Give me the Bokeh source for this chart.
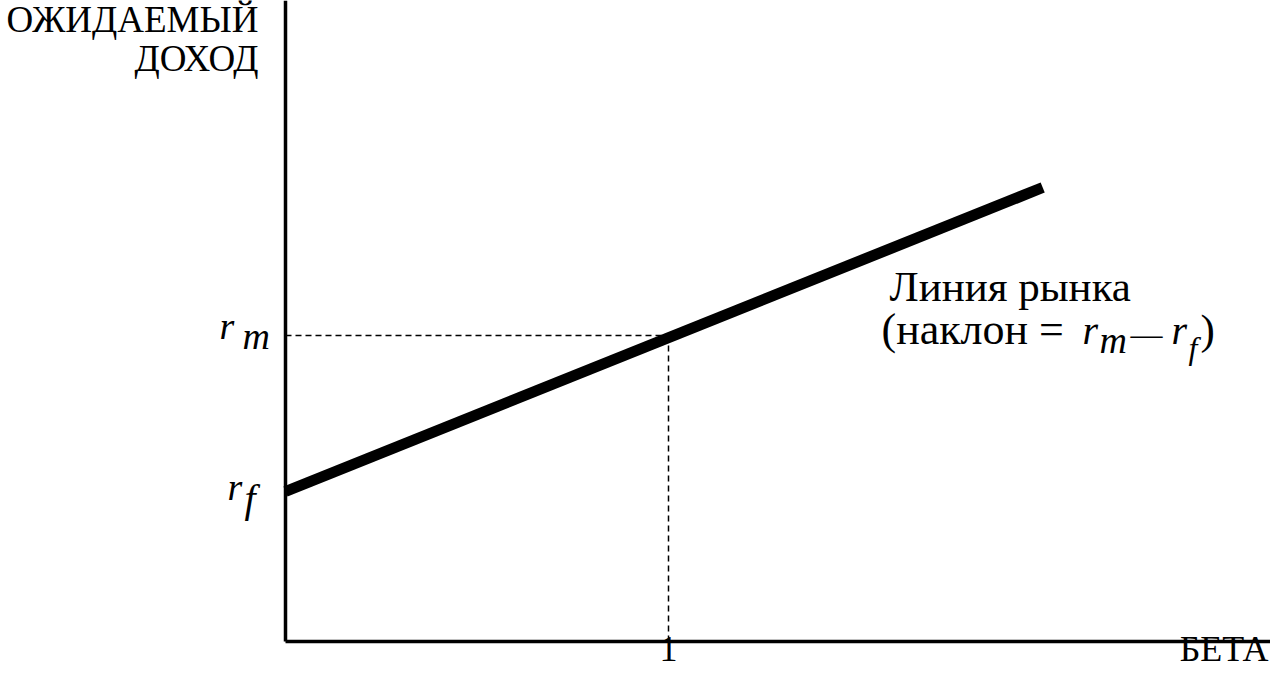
from bokeh.plotting import figure
from bokeh.models import Range1d, Label
from bokeh.embed import file_html
from bokeh.resources import INLINE

# ---- data ----
sml_beta = [0.0, 1.977]         # security market line: beta
sml_return = [6.0, 18.16]       # expected return along the line
r_f = 6.0                       # risk-free rate
r_m = 12.24                     # market return
beta_market = 1.0               # market beta
x_tick_labels = ["1"]
y_title_lines = ["ОЖИДАЕМЫЙ", "ДОХОД"]
x_title = "БЕТА"
legend_lines = ["Линия рынка", "(наклон ="]

W, H = 1270, 670
x0_px, x_unit = 285, 383.0
y0_from_bottom, y_unit = 29, 25.0
x_start = -x0_px / x_unit
x_end = (W - x0_px) / x_unit
y_start = -y0_from_bottom / y_unit
y_end = (H - y0_from_bottom) / y_unit

p = figure(width=W, height=H, output_backend="svg", toolbar_location=None,
           x_range=Range1d(x_start, x_end), y_range=Range1d(y_start, y_end),
           x_axis_type=None, y_axis_type=None, min_border=0,
           outline_line_color=None, background_fill_color="white",
           border_fill_color="white")
p.grid.visible = False

# axes lines
p.segment(x0=[0, 0], y0=[0, 0], x1=[x_end, 0], y1=[0, y_end],
          line_color="black", line_width=3.5)

# dashed guides
p.segment(x0=[0, beta_market], y0=[r_m, 0], x1=[beta_market, beta_market], y1=[r_m, r_m],
          line_color="black", line_width=1.5, line_dash="6 4")

# security market line
p.line(sml_beta, sml_return, line_color="black", line_width=11, line_cap="butt")

FONT = "Liberation Serif"

def lab(x, y, text, xo, yo, size=34, align="left", style="normal"):
    p.add_layout(Label(x=x, y=y, text=text, x_offset=xo, y_offset=yo,
                       text_font=FONT, text_font_size=f"{size}px",
                       text_font_style=style, text_align=align,
                       text_baseline="alphabetic", text_color="black"))

# y title
lab(0, y_end, y_title_lines[0], -27, -19, size=37, align="right")
lab(0, y_end, y_title_lines[1], -27, -58, size=37, align="right")

# y tick labels r_m, r_f
lab(0, r_m, "r", -66, 10, size=38, style="italic")
lab(0, r_m, "m", -43, 0, size=38, style="italic")
lab(0, r_f, "r", -58, 5, size=38, style="italic")
lab(0, r_f, "f", -41, -7, size=40, style="italic")

# x tick label and title
lab(beta_market, 0, x_tick_labels[0], 0, -7, size=36, align="center")
lab(x_end, 0, x_title, -2, -7, size=36, align="right")

# legend text
lab(beta_market, r_m, legend_lines[0], 221, 49, size=43)
lab(beta_market, r_m, legend_lines[1], 213, 6, size=44)
lab(beta_market, r_m, "r", 414, 5, size=40, style="italic")
lab(beta_market, r_m, "m", 431, -4, size=38, style="italic")
lab(beta_market, r_m, "—", 462, 2, size=32)
lab(beta_market, r_m, "r", 503, 5, size=40, style="italic")
lab(beta_market, r_m, "f", 520, -12, size=32, style="italic")
lab(beta_market, r_m, ")", 532, 6, size=43)

open("out.html", "w").write(file_html(p, INLINE))
